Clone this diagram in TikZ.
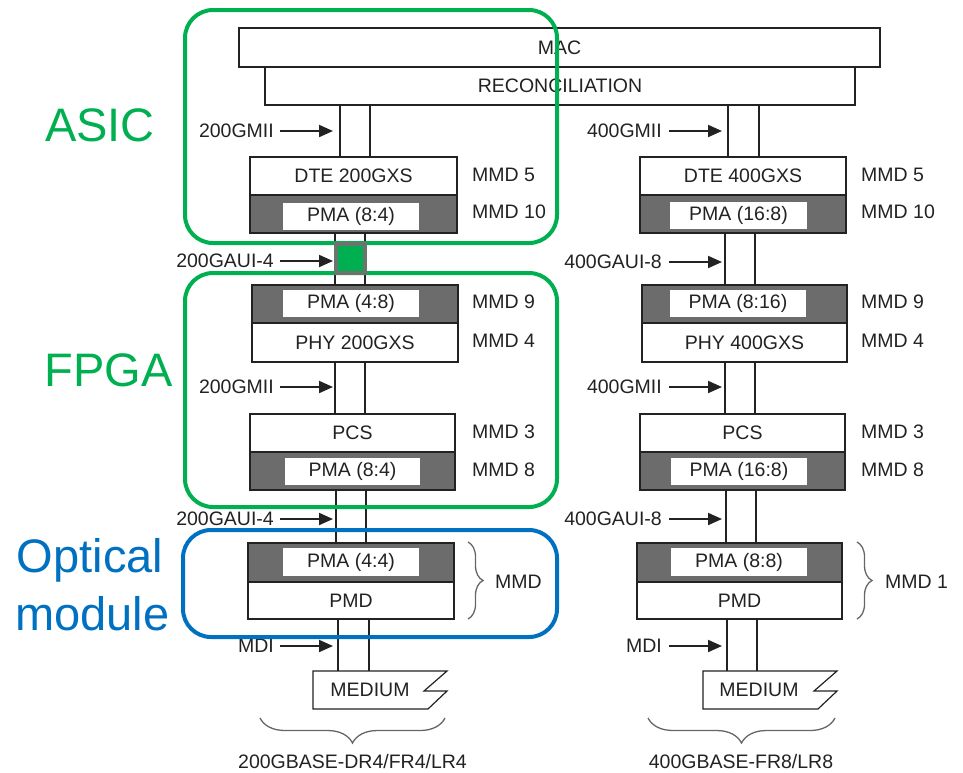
\documentclass[tikz,border=0pt]{standalone}
\usepackage{fontspec}
\setmainfont{Liberation Sans}
\usetikzlibrary{arrows.meta,decorations.pathreplacing}
\definecolor{grn}{RGB}{0,176,80}
\definecolor{blu}{RGB}{0,112,192}
\definecolor{shadegray}{RGB}{108,108,108}
\definecolor{ink}{RGB}{34,34,34}
\definecolor{sqborder}{RGB}{108,116,110}
\begin{document}
\begin{tikzpicture}[x=1pt,y=-1pt,
  every node/.style={font=\fontsize{19.5}{22}\selectfont, text=ink, inner sep=0pt},
  blk/.style={draw=ink, line width=1.8pt, fill=white, rectangle},
  shd/.style={draw=ink, line width=1.8pt, fill=shadegray, rectangle},
  wbox/.style={fill=white, rectangle},
  col/.style={draw=ink, line width=1.8pt},
  lab/.style={anchor=east},
  mmdlab/.style={anchor=west},
  arr/.style={-{Triangle[length=14pt,width=12pt]}, line width=2pt, draw=ink},
  grp/.style={draw=grn, line width=4pt, rounded corners=28pt, rectangle},
  big/.style={font=\fontsize{47}{52}\selectfont},
  brc/.style={decorate, decoration={brace, amplitude=#1}, draw=black!60, line width=1.3pt},
  medshape/.style={draw=ink, line width=1.2pt, fill=white}
]
\useasboundingbox (0,0) rectangle (963,772);

% top blocks
\node[blk, minimum width=641pt, minimum height=39pt] (mac) at (559.5,47.5) {MAC};
\node[blk, minimum width=590pt, minimum height=38pt] (rec) at (560,86) {RECONCILIATION};

% ---------- left stack ----------
\node[blk, minimum width=207pt, minimum height=38pt] (dteL) at (353.5,176) {DTE 200GXS};
\node[shd, minimum width=207pt, minimum height=38pt] (pmaLa) at (353.5,214) {};
\node[wbox, minimum width=136pt, minimum height=27pt] (pmaLai) at (351,216) {PMA (8:4)};

\node[shd, minimum width=206pt, minimum height=38pt] (pmaLb) at (355,304) {};
\node[wbox, minimum width=136pt, minimum height=27pt] (pmaLbi) at (351,303.5) {PMA (4:8)};
\node[blk, minimum width=206pt, minimum height=39pt] (phyL) at (355,342.5) {PHY 200GXS};

\node[blk, minimum width=205pt, minimum height=38pt] (pcsL) at (352.5,433) {PCS};
\node[shd, minimum width=205pt, minimum height=38pt] (pmaLc) at (352.5,471) {};
\node[wbox, minimum width=135pt, minimum height=27pt] (pmaLci) at (352.5,471.5) {PMA (8:4)};

\node[shd, minimum width=206pt, minimum height=39pt] (pmaLd) at (351,562.5) {};
\node[wbox, minimum width=136pt, minimum height=28pt] (pmaLdi) at (351,562) {PMA (4:4)};
\node[blk, minimum width=206pt, minimum height=37pt] (pmdL) at (351,600.5) {PMD};

\draw[medshape] (313,671) -- (447,671) -- (424,691) -- (447,691) -- (428,709) -- (313,709) -- cycle;
\node (medL) at (370,690) {MEDIUM};

% left columns
\draw[col] (340,0 |- rec.south) -- (340,0 |- dteL.north);
\draw[col] (370,0 |- rec.south) -- (370,0 |- dteL.north);
\draw[col] (335,0 |- pmaLa.south) -- (335,0 |- pmaLb.north);
\draw[col] (365,0 |- pmaLa.south) -- (365,0 |- pmaLb.north);
\draw[col] (335,0 |- phyL.south) -- (335,0 |- pcsL.north);
\draw[col] (365,0 |- phyL.south) -- (365,0 |- pcsL.north);
\draw[col] (336,0 |- pmaLc.south) -- (336,0 |- pmaLd.north);
\draw[col] (366,0 |- pmaLc.south) -- (366,0 |- pmaLd.north);
\draw[col] (338,0 |- pmdL.south) -- (338,671);
\draw[col] (369,0 |- pmdL.south) -- (369,671);

% ---------- right stack ----------
\node[blk, minimum width=206pt, minimum height=38pt] (dteR) at (743,176) {DTE 400GXS};
\node[shd, minimum width=206pt, minimum height=38pt] (pmaRa) at (743,214) {};
\node[wbox, minimum width=137pt, minimum height=27pt] (pmaRai) at (738.5,215.5) {PMA (16:8)};

\node[shd, minimum width=205pt, minimum height=38pt] (pmaRb) at (744.5,304) {};
\node[wbox, minimum width=136pt, minimum height=27pt] (pmaRbi) at (738,303.5) {PMA (8:16)};
\node[blk, minimum width=205pt, minimum height=39pt] (phyR) at (744.5,342.5) {PHY 400GXS};

\node[blk, minimum width=205pt, minimum height=38pt] (pcsR) at (742.5,433) {PCS};
\node[shd, minimum width=205pt, minimum height=38pt] (pmaRc) at (742.5,471) {};
\node[wbox, minimum width=136pt, minimum height=27pt] (pmaRci) at (739,471.5) {PMA (16:8)};

\node[shd, minimum width=205pt, minimum height=39pt] (pmaRd) at (739.5,562.5) {};
\node[wbox, minimum width=136pt, minimum height=28pt] (pmaRdi) at (739,562) {PMA (8:8)};
\node[blk, minimum width=205pt, minimum height=37pt] (pmdR) at (739.5,600.5) {PMD};

\draw[medshape] (703,671) -- (837,671) -- (814,691) -- (837,691) -- (818,709) -- (703,709) -- cycle;
\node (medR) at (759,690) {MEDIUM};

% right columns
\draw[col] (728,0 |- rec.south) -- (728,0 |- dteR.north);
\draw[col] (759,0 |- rec.south) -- (759,0 |- dteR.north);
\draw[col] (725,0 |- pmaRa.south) -- (725,0 |- pmaRb.north);
\draw[col] (755,0 |- pmaRa.south) -- (755,0 |- pmaRb.north);
\draw[col] (725,0 |- phyR.south) -- (725,0 |- pcsR.north);
\draw[col] (755,0 |- phyR.south) -- (755,0 |- pcsR.north);
\draw[col] (726,0 |- pmaRc.south) -- (726,0 |- pmaRd.north);
\draw[col] (756,0 |- pmaRc.south) -- (756,0 |- pmaRd.north);
\draw[col] (727,0 |- pmdR.south) -- (727,671);
\draw[col] (757,0 |- pmdR.south) -- (757,671);

% ---------- interface labels and arrows ----------
\node[lab] (l1) at (274,131) {200GMII};
\node[lab] (l2) at (274,261) {200GAUI-4};
\node[lab] (l3) at (274,387) {200GMII};
\node[lab] (l4) at (274,519) {200GAUI-4};
\node[lab] (l5) at (274,646) {MDI};
\foreach \n in {l1,l2,l3,l4,l5}{
  \draw[arr] ([xshift=6pt]\n.east) -- (333,0 |- \n.east);
}
\node[lab] (r1) at (662,131) {400GMII};
\node[lab] (r2) at (662,262) {400GAUI-8};
\node[lab] (r3) at (662,387) {400GMII};
\node[lab] (r4) at (662,519) {400GAUI-8};
\node[lab] (r5) at (662,646) {MDI};
\foreach \n in {r1,r2,r3,r4,r5}{
  \draw[arr] ([xshift=7pt]\n.east) -- (722,0 |- \n.east);
}

% ---------- MMD labels ----------
\node[mmdlab] (m5L) at (472,175) {MMD 5};
\node[mmdlab] (m10L) at (472,212) {MMD 10};
\node[mmdlab] (m9L) at (472,302) {MMD 9};
\node[mmdlab] (m4L) at (472,341) {MMD 4};
\node[mmdlab] (m3L) at (472,432) {MMD 3};
\node[mmdlab] (m8L) at (472,470) {MMD 8};
\node[mmdlab] (m5R) at (861,175) {MMD 5};
\node[mmdlab] (m10R) at (861,212) {MMD 10};
\node[mmdlab] (m9R) at (861,302) {MMD 9};
\node[mmdlab] (m4R) at (861,341) {MMD 4};
\node[mmdlab] (m3R) at (861,432) {MMD 3};
\node[mmdlab] (m8R) at (861,470) {MMD 8};

% braces
\draw[brc=15pt] (468,542) -- (468,619);
\node[mmdlab] (m1L) at (495,582) {MMD};
\draw[brc=15pt] (857,542) -- (857,619);
\node[mmdlab] (m1R) at (885,582) {MMD 1};

\draw[brc=25pt] (445,718) -- (260,718);
\node (baseL) at (352.5,762) {200GBASE-DR4/FR4/LR4};
\draw[brc=25pt] (835,718) -- (648,718);
\node (baseR) at (741,762) {400GBASE-FR8/LR8};

% ---------- grouping frames ----------
\node[grp, minimum width=372pt, minimum height=233pt] (asicbox) at (371,126.5) {};
\node[grp, minimum width=372pt, minimum height=234pt] (fpgabox) at (371,390) {};
\node[grp, draw=blu, minimum width=374pt, minimum height=107pt] (optbox) at (370,583.5) {};

\node[draw=sqborder, line width=4pt, fill=grn, minimum width=29pt, minimum height=29pt] (gsq) at (350.5,258.5) {};

\node[big, text=grn] (asic) at (100,125) {ASIC};
\node[big, text=grn] (fpga) at (108.5,370) {FPGA};
\node[big, text=blu, anchor=base] (optical) at (90,572) {Optical};
\node[big, text=blu, anchor=base] (module) at (92.5,630) {module};
\end{tikzpicture}
\end{document}
